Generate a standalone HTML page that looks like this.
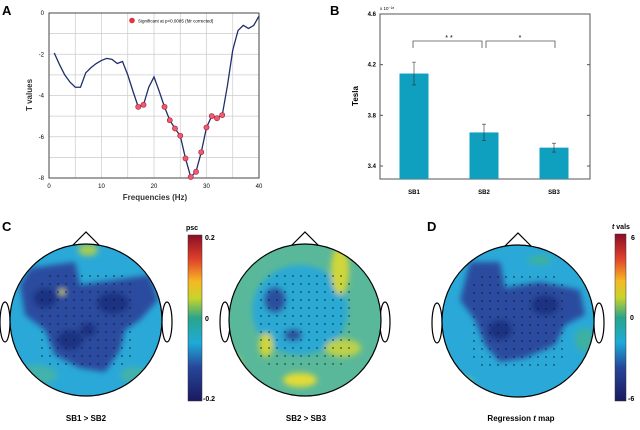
<!DOCTYPE html>
<html><head><meta charset="utf-8"><style>
body{margin:0;background:#fff;width:640px;height:425px;overflow:hidden;font-family:"Liberation Sans",sans-serif}
svg text{font-family:"Liberation Sans",sans-serif}
</style></head><body>
<svg id="fig" width="640" height="425" viewBox="0 0 640 425">
<defs>
<linearGradient id="jet" x1="0" y1="1" x2="0" y2="0">
<stop offset="0" stop-color="#1a1a60"/><stop offset="0.2" stop-color="#27459a"/><stop offset="0.35" stop-color="#1eabd8"/><stop offset="0.5" stop-color="#2aa58a"/><stop offset="0.62" stop-color="#c8d42a"/><stop offset="0.72" stop-color="#f6b825"/><stop offset="0.85" stop-color="#e2432a"/><stop offset="1" stop-color="#8b0d26"/>
</linearGradient>
<filter id="blur" x="-20%" y="-20%" width="140%" height="140%"><feGaussianBlur stdDeviation="3"/></filter>
<clipPath id="c1"><circle cx="86" cy="320" r="76"/></clipPath>
<clipPath id="c2"><circle cx="305" cy="320" r="76"/></clipPath>
<clipPath id="c3"><circle cx="518" cy="321" r="76"/></clipPath>
</defs>

<text x="2" y="15" font-size="13" font-weight="bold">A</text>
<text x="330" y="15" font-size="13" font-weight="bold">B</text>
<text x="2" y="231" font-size="13" font-weight="bold">C</text>
<text x="427" y="231" font-size="13" font-weight="bold">D</text>

<g id="chartA"></g>
<g id="chartB"></g>

<g>
<polygon points="72,246 86,232 100,246" fill="none" stroke="#000" stroke-width="1.2"/>
<ellipse cx="5" cy="322" rx="5" ry="20" fill="none" stroke="#000" stroke-width="1.2"/>
<ellipse cx="167" cy="322" rx="5" ry="20" fill="none" stroke="#000" stroke-width="1.2"/>
<g clip-path="url(#c1)">
<rect x="0" y="240" width="170" height="170" fill="#2aa9d8"/>
<g filter="url(#blur)">
<path d="M30 268 L75 262 L80 285 L100 282 L150 275 L158 300 L140 320 L125 330 L120 350 L105 372 L80 368 L55 355 L45 330 L25 315 L20 285 Z" fill="#2b4c9f"/>
<ellipse cx="45" cy="298" rx="12" ry="10" fill="#1f3282"/>
<ellipse cx="113" cy="303" rx="16" ry="11" fill="#1f3282"/>
<ellipse cx="70" cy="340" rx="13" ry="10" fill="#1f3282"/>
<ellipse cx="88" cy="330" rx="8" ry="7" fill="#1f3282"/>
<ellipse cx="88" cy="250" rx="10" ry="6" fill="#a6cc55"/>
<ellipse cx="62" cy="292" rx="3" ry="3" fill="#d4d840"/>
<ellipse cx="35" cy="375" rx="22" ry="10" fill="#42b2aa"/>
<ellipse cx="135" cy="375" rx="15" ry="8" fill="#42b2aa"/>
</g></g>
<g id="dots1"></g>
<circle cx="86" cy="320" r="76" fill="none" stroke="#000" stroke-width="1.2"/>
</g>
<g>
<polygon points="291,246 305,232 319,246" fill="none" stroke="#000" stroke-width="1.2"/>
<ellipse cx="225" cy="322" rx="5" ry="20" fill="none" stroke="#000" stroke-width="1.2"/>
<ellipse cx="385" cy="322" rx="5" ry="20" fill="none" stroke="#000" stroke-width="1.2"/>
<g clip-path="url(#c2)">
<rect x="220" y="240" width="170" height="170" fill="#5ab89a"/>
<g filter="url(#blur)">
<ellipse cx="300" cy="310" rx="48" ry="45" fill="#2aa9d4"/>
<ellipse cx="275" cy="300" rx="11" ry="13" fill="#2c4f9f"/>
<ellipse cx="293" cy="335" rx="9" ry="6" fill="#2c4f9f"/>
<ellipse cx="340" cy="270" rx="9" ry="25" fill="#cfd63a"/>
<ellipse cx="300" cy="380" rx="17" ry="7" fill="#e2dc35"/>
<ellipse cx="343" cy="348" rx="18" ry="9" fill="#bcd14a"/>
<ellipse cx="232" cy="372" rx="10" ry="18" fill="#cfd63a"/>
<ellipse cx="266" cy="345" rx="7" ry="12" fill="#cfd63a"/>
</g></g>
<g id="dots2"></g>
<circle cx="305" cy="320" r="76" fill="none" stroke="#000" stroke-width="1.2"/>
</g>
<g>
<polygon points="504,247 518,233 532,247" fill="none" stroke="#000" stroke-width="1.2"/>
<ellipse cx="437" cy="323" rx="5" ry="20" fill="none" stroke="#000" stroke-width="1.2"/>
<ellipse cx="599" cy="323" rx="5" ry="20" fill="none" stroke="#000" stroke-width="1.2"/>
<g clip-path="url(#c3)">
<rect x="435" y="240" width="170" height="170" fill="#2aa9d8"/>
<g filter="url(#blur)">
<path d="M470 262 L500 262 L505 288 L540 282 L580 290 L585 315 L565 325 L555 345 L525 358 L500 362 L485 345 L475 320 L460 300 Z" fill="#2b4c9f"/>
<ellipse cx="545" cy="305" rx="14" ry="10" fill="#1f3282"/>
<ellipse cx="500" cy="330" rx="12" ry="10" fill="#1f3282"/>
<ellipse cx="460" cy="385" rx="14" ry="9" fill="#7dc27a"/>
<ellipse cx="585" cy="340" rx="10" ry="12" fill="#3cb0a0"/>
<ellipse cx="540" cy="260" rx="12" ry="5" fill="#3cb0a0"/>
</g></g>
<g id="dots3"></g>
<circle cx="518" cy="321" r="76" fill="none" stroke="#000" stroke-width="1.2"/>
</g>

<g>
<rect x="188" y="235" width="14" height="166" fill="url(#jet)" stroke="#333" stroke-width="0.5"/>
<text x="186" y="230" font-size="7" font-weight="bold">psc</text>
<text x="205" y="240" font-size="7" font-weight="bold">0.2</text>
<text x="205" y="321" font-size="7" font-weight="bold">0</text>
<text x="203" y="401" font-size="7" font-weight="bold">-0.2</text>
</g>
<g>
<rect x="615" y="234" width="11" height="167" fill="url(#jet)" stroke="#333" stroke-width="0.5"/>
<text x="612" y="229" font-size="7" font-weight="bold"><tspan font-style="italic">t</tspan> vals</text>
<text x="631" y="240" font-size="7" font-weight="bold">6</text>
<text x="630" y="320" font-size="7" font-weight="bold">0</text>
<text x="628" y="401" font-size="7" font-weight="bold">-6</text>
</g>
<text x="86" y="421" font-size="8" font-weight="bold" text-anchor="middle">SB1 &gt; SB2</text>
<text x="306" y="421" font-size="8" font-weight="bold" text-anchor="middle">SB2 &gt; SB3</text>
<text x="521" y="421" font-size="8" font-weight="bold" text-anchor="middle">Regression <tspan font-style="italic">t</tspan> map</text>
</svg>
<script>
const freqs=[1,2,3,4,5,6,7,8,9,10,11,12,13,14,15,16,17,18,19,20,21,22,23,24,25,26,27,28,29,30,31,32,33,34,35,36,37,38,39,40];
const tvals=[-1.94,-2.5,-3.0,-3.35,-3.6,-3.6,-2.9,-2.65,-2.45,-2.3,-2.2,-2.25,-2.45,-2.35,-3.0,-3.8,-4.55,-4.45,-3.6,-3.1,-3.8,-4.55,-5.2,-5.6,-5.95,-7.05,-7.95,-7.7,-6.75,-5.55,-5.0,-5.1,-4.95,-3.5,-1.8,-0.85,-0.6,-0.75,-0.6,-0.15];
const sigFreqs=[17,18,22,23,24,25,26,27,28,29,30,31,32,33];
const xTicksA=[0,10,20,30,40];
const yTicksA=[0,-2,-4,-6,-8];
const barCats=["SB1","SB2","SB3"];
const barVals=[4.13,3.665,3.545];
const barErr=[0.09,0.065,0.035];
const yTicksB=[3.4,3.8,4.2,4.6];
const NS="http://www.w3.org/2000/svg";
function mk(p,tag,at){const e=document.createElementNS(NS,tag);for(const k in at)e.setAttribute(k,at[k]);p.appendChild(e);return e;}
// electrode dots
[["dots1",86,320],["dots2",305,320],["dots3",518,321]].forEach(([id,cx,cy])=>{
const g=document.getElementById(id);


for(let y=-60;y<=60;y+=8)for(let x=-64;x<=64;x+=8){const dx=x+((y/8)%2?4:0);
if(dx*dx+y*y<3600&&Math.abs(dx)<50&&y>-45&&y<45)mk(g,'circle',{cx:cx+dx,cy:cy+y,r:0.7,fill:'#111'});}
});
// Chart A
const A=document.getElementById('chartA');
const ax=v=>49+(v-0)/40*210, ay=v=>13+(0-v)/8*165;
for(let v=0;v<=40;v+=5){const l=mk(A,'line',{x1:ax(v),x2:ax(v),y1:13,y2:178,stroke:'#ccc','stroke-width':0.7});

}
for(let v=0;v>=-8;v-=1){const l=mk(A,'line',{x1:49,x2:259,y1:ay(v),y2:ay(v),stroke:'#ccc','stroke-width':0.7});

}
const fr=mk(A,'rect',{x:49,y:13,width:210,height:165,fill:'none',stroke:'#444','stroke-width':1});


xTicksA.forEach(v=>{const t=mk(A,'text',{x:ax(v),y:188,'font-size':6,'text-anchor':'middle'});t.textContent=v;

});
yTicksA.forEach(v=>{const t=mk(A,'text',{x:44,y:ay(v)+2,'font-size':6,'text-anchor':'end'});t.textContent=v;

});
const xt=mk(A,'text',{x:155,y:200,'font-size':8,'font-weight':'bold','text-anchor':'middle',fill:'#333'});xt.textContent='Frequencies (Hz)';


const yt=mk(A,'text',{x:0,y:0,'font-size':8,'font-weight':'bold','text-anchor':'middle',fill:'#333',transform:'translate(32,95) rotate(-90)'});yt.textContent='T values';


const pl=mk(A,'polyline',{points:freqs.map((f,i)=>ax(f)+','+ay(tvals[i])).join(' '),fill:'none',stroke:'#1f2f6a','stroke-width':1.3});


sigFreqs.forEach(f=>{const i=freqs.indexOf(f);const c=mk(A,'circle',{cx:ax(f),cy:ay(tvals[i]),r:2.6,fill:'#f05a6a',stroke:'#a02040','stroke-width':0.6});

});
const lg=mk(A,'circle',{cx:132,cy:20.5,r:2.8,fill:'#e8303e'});


const lt=mk(A,'text',{x:138,y:22.5,'font-size':4.5});lt.textContent='Significant at p<0.0085 (fdr corrected)';


// Chart B
const B=document.getElementById('chartB');
const by=v=>14+(4.6-v)/1.2*152;
const bx=i=>414+i*70;
const fb=mk(B,'rect',{x:380,y:14,width:210,height:165,fill:'none',stroke:'#555','stroke-width':1});


yTicksB.forEach(v=>{const t=mk(B,'text',{x:376,y:by(v)+2,'font-size':6,'font-weight':'bold','text-anchor':'end'});t.textContent=v.toFixed(1);


mk(B,'line',{x1:380,x2:383,y1:by(v),y2:by(v),stroke:'#555'});mk(B,'line',{x1:587,x2:590,y1:by(v),y2:by(v),stroke:'#555'});});
const ex=mk(B,'text',{x:380,y:10,'font-size':4.5});ex.textContent='x 10⁻²⁸';


const tl=mk(B,'text',{x:0,y:0,'font-size':8,'font-weight':'bold','text-anchor':'middle',transform:'translate(358,96) rotate(-90)'});tl.textContent='Tesla';


barCats.forEach((c,i)=>{
const b=mk(B,'rect',{x:bx(i)-14.5,y:by(barVals[i]),width:29,height:179-by(barVals[i]),fill:'#0f9fbf'});


const e=mk(B,'path',{d:`M${bx(i)} ${by(barVals[i]+barErr[i])}V${by(barVals[i]-barErr[i])}M${bx(i)-2} ${by(barVals[i]+barErr[i])}h4M${bx(i)-2} ${by(barVals[i]-barErr[i])}h4`,stroke:'#333','stroke-width':0.6,fill:'none'});


const t=mk(B,'text',{x:bx(i),y:194,'font-size':6,'font-weight':'bold','text-anchor':'middle'});t.textContent=c;

});
const br1=mk(B,'path',{d:'M413 48V41H482V48M486 48V41H555V48',stroke:'#555','stroke-width':0.8,fill:'none'});


const s1=mk(B,'text',{x:449,y:40,'font-size':7,'text-anchor':'middle'});s1.textContent='* *';


const s2=mk(B,'text',{x:520,y:40,'font-size':7,'text-anchor':'middle'});s2.textContent='*';


</script>
</body></html>
